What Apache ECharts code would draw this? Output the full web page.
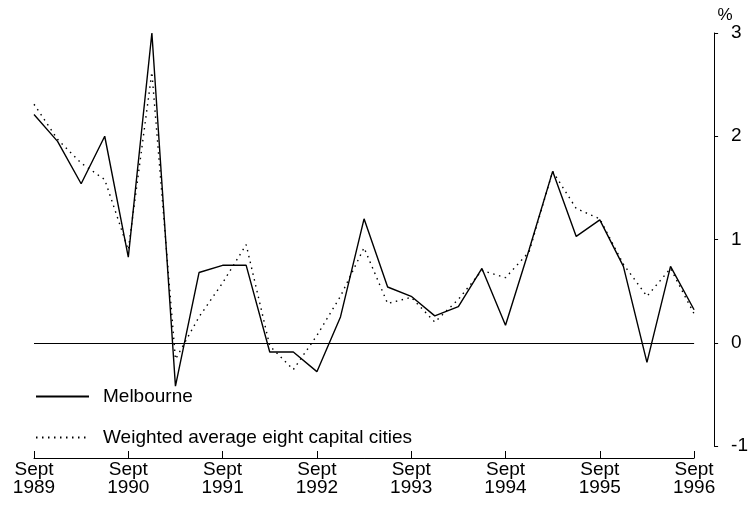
<!DOCTYPE html>
<html>
<head>
<meta charset="utf-8">
<script src="https://cdn.jsdelivr.net/npm/echarts@6/dist/echarts.min.js"></script>
<style>
  html, body { margin: 0; padding: 0; background: #fff; }
  #main { width: 751px; height: 517px; }
</style>
</head>
<body>
<div id="main"></div>
<script>
var quarters = [
  'Sept 1989', 'Dec 1989', 'Mar 1990', 'June 1990',
  'Sept 1990', 'Dec 1990', 'Mar 1991', 'June 1991',
  'Sept 1991', 'Dec 1991', 'Mar 1992', 'June 1992',
  'Sept 1992', 'Dec 1992', 'Mar 1993', 'June 1993',
  'Sept 1993', 'Dec 1993', 'Mar 1994', 'June 1994',
  'Sept 1994', 'Dec 1994', 'Mar 1995', 'June 1995',
  'Sept 1995', 'Dec 1995', 'Mar 1996', 'June 1996',
  'Sept 1996'
];
var melbourne = [
  2.21, 1.95, 1.54, 2.0, 0.83, 3.0, -0.42, 0.68, 0.75, 0.75,
  -0.09, -0.09, -0.28, 0.25, 1.2, 0.54, 0.45, 0.26, 0.35, 0.72,
  0.17, 0.9, 1.66, 1.03, 1.19, 0.74, -0.19, 0.74, 0.32
];
var weightedAvg = [
  2.31, 1.97, 1.74, 1.58, 0.9, 2.62, -0.16, 0.25, 0.58, 0.95,
  -0.03, -0.26, 0.07, 0.45, 0.92, 0.38, 0.44, 0.2, 0.42, 0.7,
  0.63, 0.88, 1.66, 1.3, 1.2, 0.76, 0.45, 0.72, 0.28
];
var yTicks = [-1, 0, 1, 2, 3];

var font = 'Liberation Sans, Arial, sans-serif';
var myChart = echarts.init(document.getElementById('main'));

var option = {
  backgroundColor: '#fff',
  animation: false,
  textStyle: { fontFamily: font, color: '#000' },
  grid: { left: 34, right: 52, top: 33, bottom: 71, containLabel: false },
  legend: {
    orient: 'vertical',
    left: 30,
    top: 382,
    itemWidth: 53,
    itemHeight: 20,
    itemGap: 22,
    selectedMode: false,
    itemStyle: { opacity: 0 },
    textStyle: { fontFamily: font, fontSize: 19, color: '#000', padding: [0, 0, 0, 9] },
    data: ['Melbourne', 'Weighted average eight capital cities']
  },
  xAxis: {
    type: 'category',
    data: quarters,
    boundaryGap: false,
    offset: 12,
    axisLine: { onZero: false, lineStyle: { color: '#000', width: 1 } },
    axisTick: { interval: 3, inside: true, length: 7, lineStyle: { color: '#000' } },
    axisLabel: {
      interval: 3,
      margin: 3,
      fontSize: 19,
      lineHeight: 18,
      color: '#000',
      fontFamily: font,
      formatter: function (v) { return v.replace(' ', '\n'); }
    },
    splitLine: { show: false }
  },
  yAxis: {
    type: 'value',
    position: 'right',
    offset: 20,
    min: yTicks[0],
    max: yTicks[yTicks.length - 1],
    interval: 1,
    name: '%',
    nameLocation: 'end',
    nameGap: 8,
    nameTextStyle: { fontSize: 17, color: '#000', fontFamily: font, padding: [0, 0, 0, 22] },
    axisLine: { show: true, lineStyle: { color: '#000', width: 1 } },
    axisTick: { show: true, inside: false, length: 4, lineStyle: { color: '#000' } },
    axisLabel: { margin: 17, fontSize: 19, color: '#000', fontFamily: font, align: 'left' },
    splitLine: { show: false }
  },
  series: [
    {
      name: 'Melbourne',
      type: 'line',
      data: melbourne,
      symbol: 'none',
      color: '#000',
      lineStyle: { color: '#000', width: 1.4, type: 'solid' },
      markLine: {
        silent: true,
        symbol: 'none',
        label: { show: false },
        lineStyle: { color: '#000', width: 1.2, type: 'solid' },
        data: [{ yAxis: 0 }]
      }
    },
    {
      name: 'Weighted average eight capital cities',
      type: 'line',
      data: weightedAvg,
      symbol: 'none',
      color: '#000',
      lineStyle: { color: '#000', width: 1.4, type: [1.5, 4.5] }
    }
  ]
};

myChart.setOption(option);
</script>
</body>
</html>
